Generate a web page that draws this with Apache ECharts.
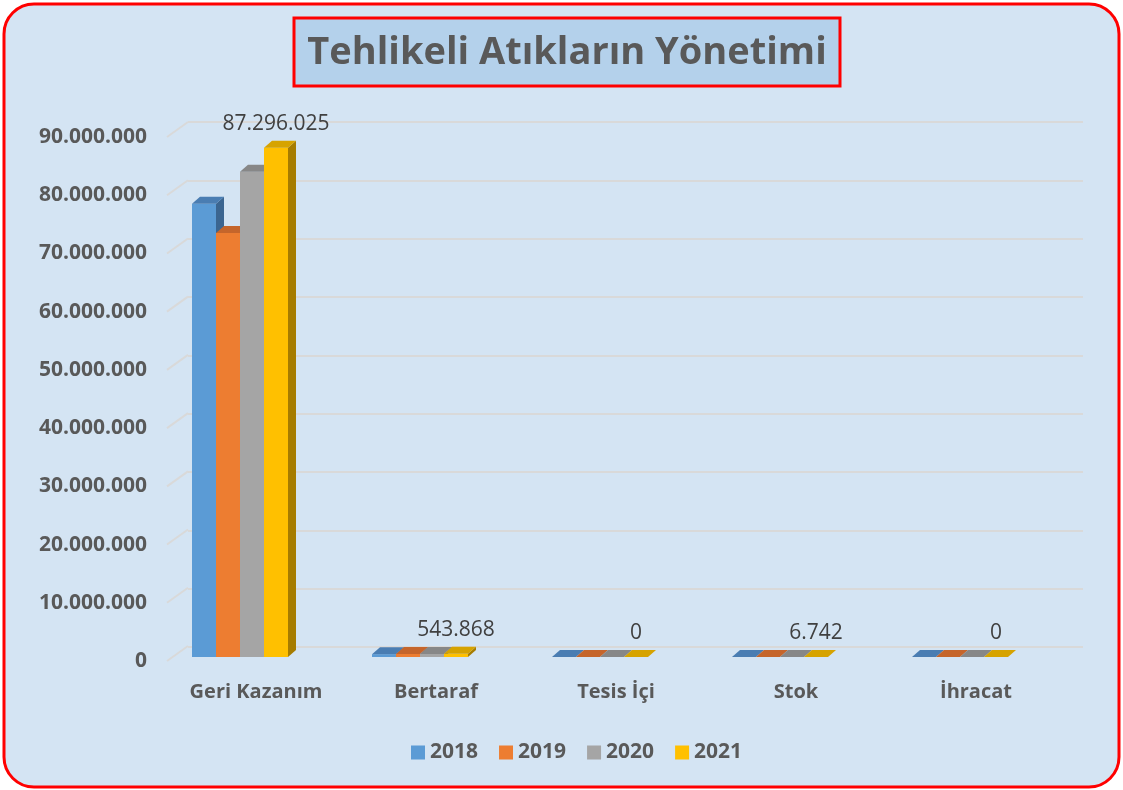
<!DOCTYPE html>
<html style="height: 100%">
<head>
<meta charset="utf-8">
</head>
<body style="height: 100%; margin: 0; background: #ffffff">
<div id="container" style="width: 1123px; height: 790px"></div>
<script type="text/javascript" src="https://cdn.jsdelivr.net/npm/echarts@6/dist/echarts.min.js"></script>
<script type="text/javascript">
var categories = ['Geri Kazanım', 'Bertaraf', 'Tesis İçi', 'Stok', 'İhracat'];
var years = ['2018', '2019', '2020', '2021'];
var values2018 = [77700000, 480000, 0, 12000, 0];
var values2019 = [72700000, 510000, 0, 15000, 0];
var values2020 = [83200000, 530000, 0, 9000, 0];
var values2021 = [87296025, 543868, 0, 6742, 0];
var yTicks = [0, 10000000, 20000000, 30000000, 40000000, 50000000, 60000000, 70000000, 80000000, 90000000];

var frontColors = ['#5b9bd5', '#ed7d31', '#a5a5a5', '#ffc000'];
var topColors = ['#4a7db2', '#c5652b', '#878787', '#d6a300'];
var sideColors = ['#3b6590', '#a9541c', '#6e6e6e', '#a67c00'];

var dom = document.getElementById('container');
var myChart = echarts.init(dom);

function fmt(v) {
    return String(Math.round(v)).replace(/\B(?=(\d{3})+(?!\d))/g, '.');
}

var DX = 8, DY = -7;

function barRenderer(s) {
    return function (params, api) {
        var cat = api.value(0);
        var val = api.value(1);
        var base = api.coord([cat, 0]);
        var top = api.coord([cat, val]);
        var catW = api.size([1, 0])[0];
        var bw = catW * 96 / 180 / 4;
        var x0 = base[0] - bw * 2 + s * bw;
        var ty = top[1], by = base[1];
        var children = [
            {
                type: 'polygon',
                shape: { points: [[x0 + bw, ty], [x0 + bw + DX, ty + DY], [x0 + bw + DX, by + DY], [x0 + bw, by]] },
                style: { fill: sideColors[s] }
            },
            {
                type: 'rect',
                shape: { x: x0, y: ty, width: bw, height: by - ty },
                style: { fill: frontColors[s] }
            },
            {
                type: 'polygon',
                shape: { points: [[x0, ty], [x0 + bw, ty], [x0 + bw + DX, ty + DY], [x0 + DX, ty + DY]] },
                style: { fill: topColors[s] }
            }
        ];
        if (s === 3) {
            children.push({
                type: 'text',
                x: x0 + bw / 2,
                y: ty - 24,
                style: {
                    text: fmt(val),
                    align: 'center',
                    verticalAlign: 'middle',
                    fill: '#404040',
                    font: '21px "Open Sans", sans-serif'
                }
            });
        }
        return { type: 'group', children: children };
    };
}

var seriesData = [values2018, values2019, values2020, values2021];
var barSeries = seriesData.map(function (vals, s) {
    return {
        name: years[s],
        type: 'custom',
        xAxisIndex: 2,
        yAxisIndex: 2,
        itemStyle: { color: frontColors[s] },
        renderItem: barRenderer(s),
        encode: { x: 0, y: 1 },
        data: vals.map(function (v, i) { return [i, v]; })
    };
});

var option = {
    animation: false,
    graphic: [
        {
            type: 'rect',
            z: -10,
            shape: { x: 4, y: 4, width: 1115, height: 783, r: 30 },
            style: { fill: '#d4e4f3', stroke: '#ff0000', lineWidth: 3 }
        },
        {
            type: 'rect',
            z: -5,
            shape: { x: 294, y: 18, width: 546, height: 68 },
            style: { fill: '#b4d1eb', stroke: '#ff0000', lineWidth: 3 }
        },
        {
            type: 'text',
            x: 567,
            y: 53,
            style: {
                text: 'Tehlikeli Atıkların Yönetimi',
                align: 'center',
                verticalAlign: 'middle',
                fill: '#595959',
                font: 'bold 38px "Open Sans", sans-serif'
            }
        }
    ],
    legend: {
        data: years,
        top: 737,
        left: 406,
        icon: 'rect',
        itemWidth: 14,
        itemHeight: 14,
        itemGap: 21,
        textStyle: { color: '#595959', fontSize: 21, fontWeight: 'bold', fontFamily: 'Open Sans' }
    },
    grid: [
        { left: 188, right: 40, top: 122, bottom: 143 },
        { left: 167, right: 60, top: 137, bottom: 129 },
        { left: 150, right: 73, top: 132, bottom: 133 }
    ],
    xAxis: [
        { gridIndex: 0, type: 'value', show: false, min: 0, max: 1 },
        { gridIndex: 1, type: 'value', show: false, min: 0, max: 1 },
        {
            gridIndex: 2,
            type: 'category',
            data: categories,
            axisLine: { show: false },
            axisTick: { show: false },
            axisLabel: {
                margin: 25,
                padding: [0, 0, 0, 32],
                color: '#595959',
                fontSize: 20,
                fontWeight: 'bold',
                fontFamily: 'Open Sans'
            }
        }
    ],
    yAxis: [
        {
            gridIndex: 0,
            type: 'value',
            min: 0,
            max: 90000000,
            interval: 10000000,
            axisLabel: { show: false },
            axisLine: { show: false },
            axisTick: { show: false },
            splitLine: { lineStyle: { color: '#d9d9d9', width: 2 } }
        },
        {
            gridIndex: 1,
            type: 'value',
            min: 0,
            max: 90000000,
            interval: 10000000,
            axisLine: { show: false },
            axisTick: { show: false },
            splitLine: { show: false },
            axisLabel: {
                margin: 20,
                color: '#595959',
                fontSize: 21,
                fontWeight: 'bold',
                fontFamily: 'Open Sans',
                formatter: function (v) { return fmt(v); }
            }
        },
        {
            gridIndex: 2,
            type: 'value',
            min: 0,
            max: 90000000,
            show: false
        }
    ],
    series: [
        {
            type: 'custom',
            xAxisIndex: 1,
            yAxisIndex: 1,
            silent: true,
            renderItem: function (params, api) {
                var y = api.coord([0, api.value(1)])[1];
                var x = params.coordSys.x;
                return {
                    type: 'line',
                    shape: { x1: x, y1: y, x2: x + 21, y2: y - 15 },
                    style: { stroke: '#d9d9d9', lineWidth: 2 }
                };
            },
            data: yTicks.map(function (v) { return [0, v]; })
        }
    ].concat(barSeries)
};

myChart.setOption(option);
</script>
</body>
</html>
